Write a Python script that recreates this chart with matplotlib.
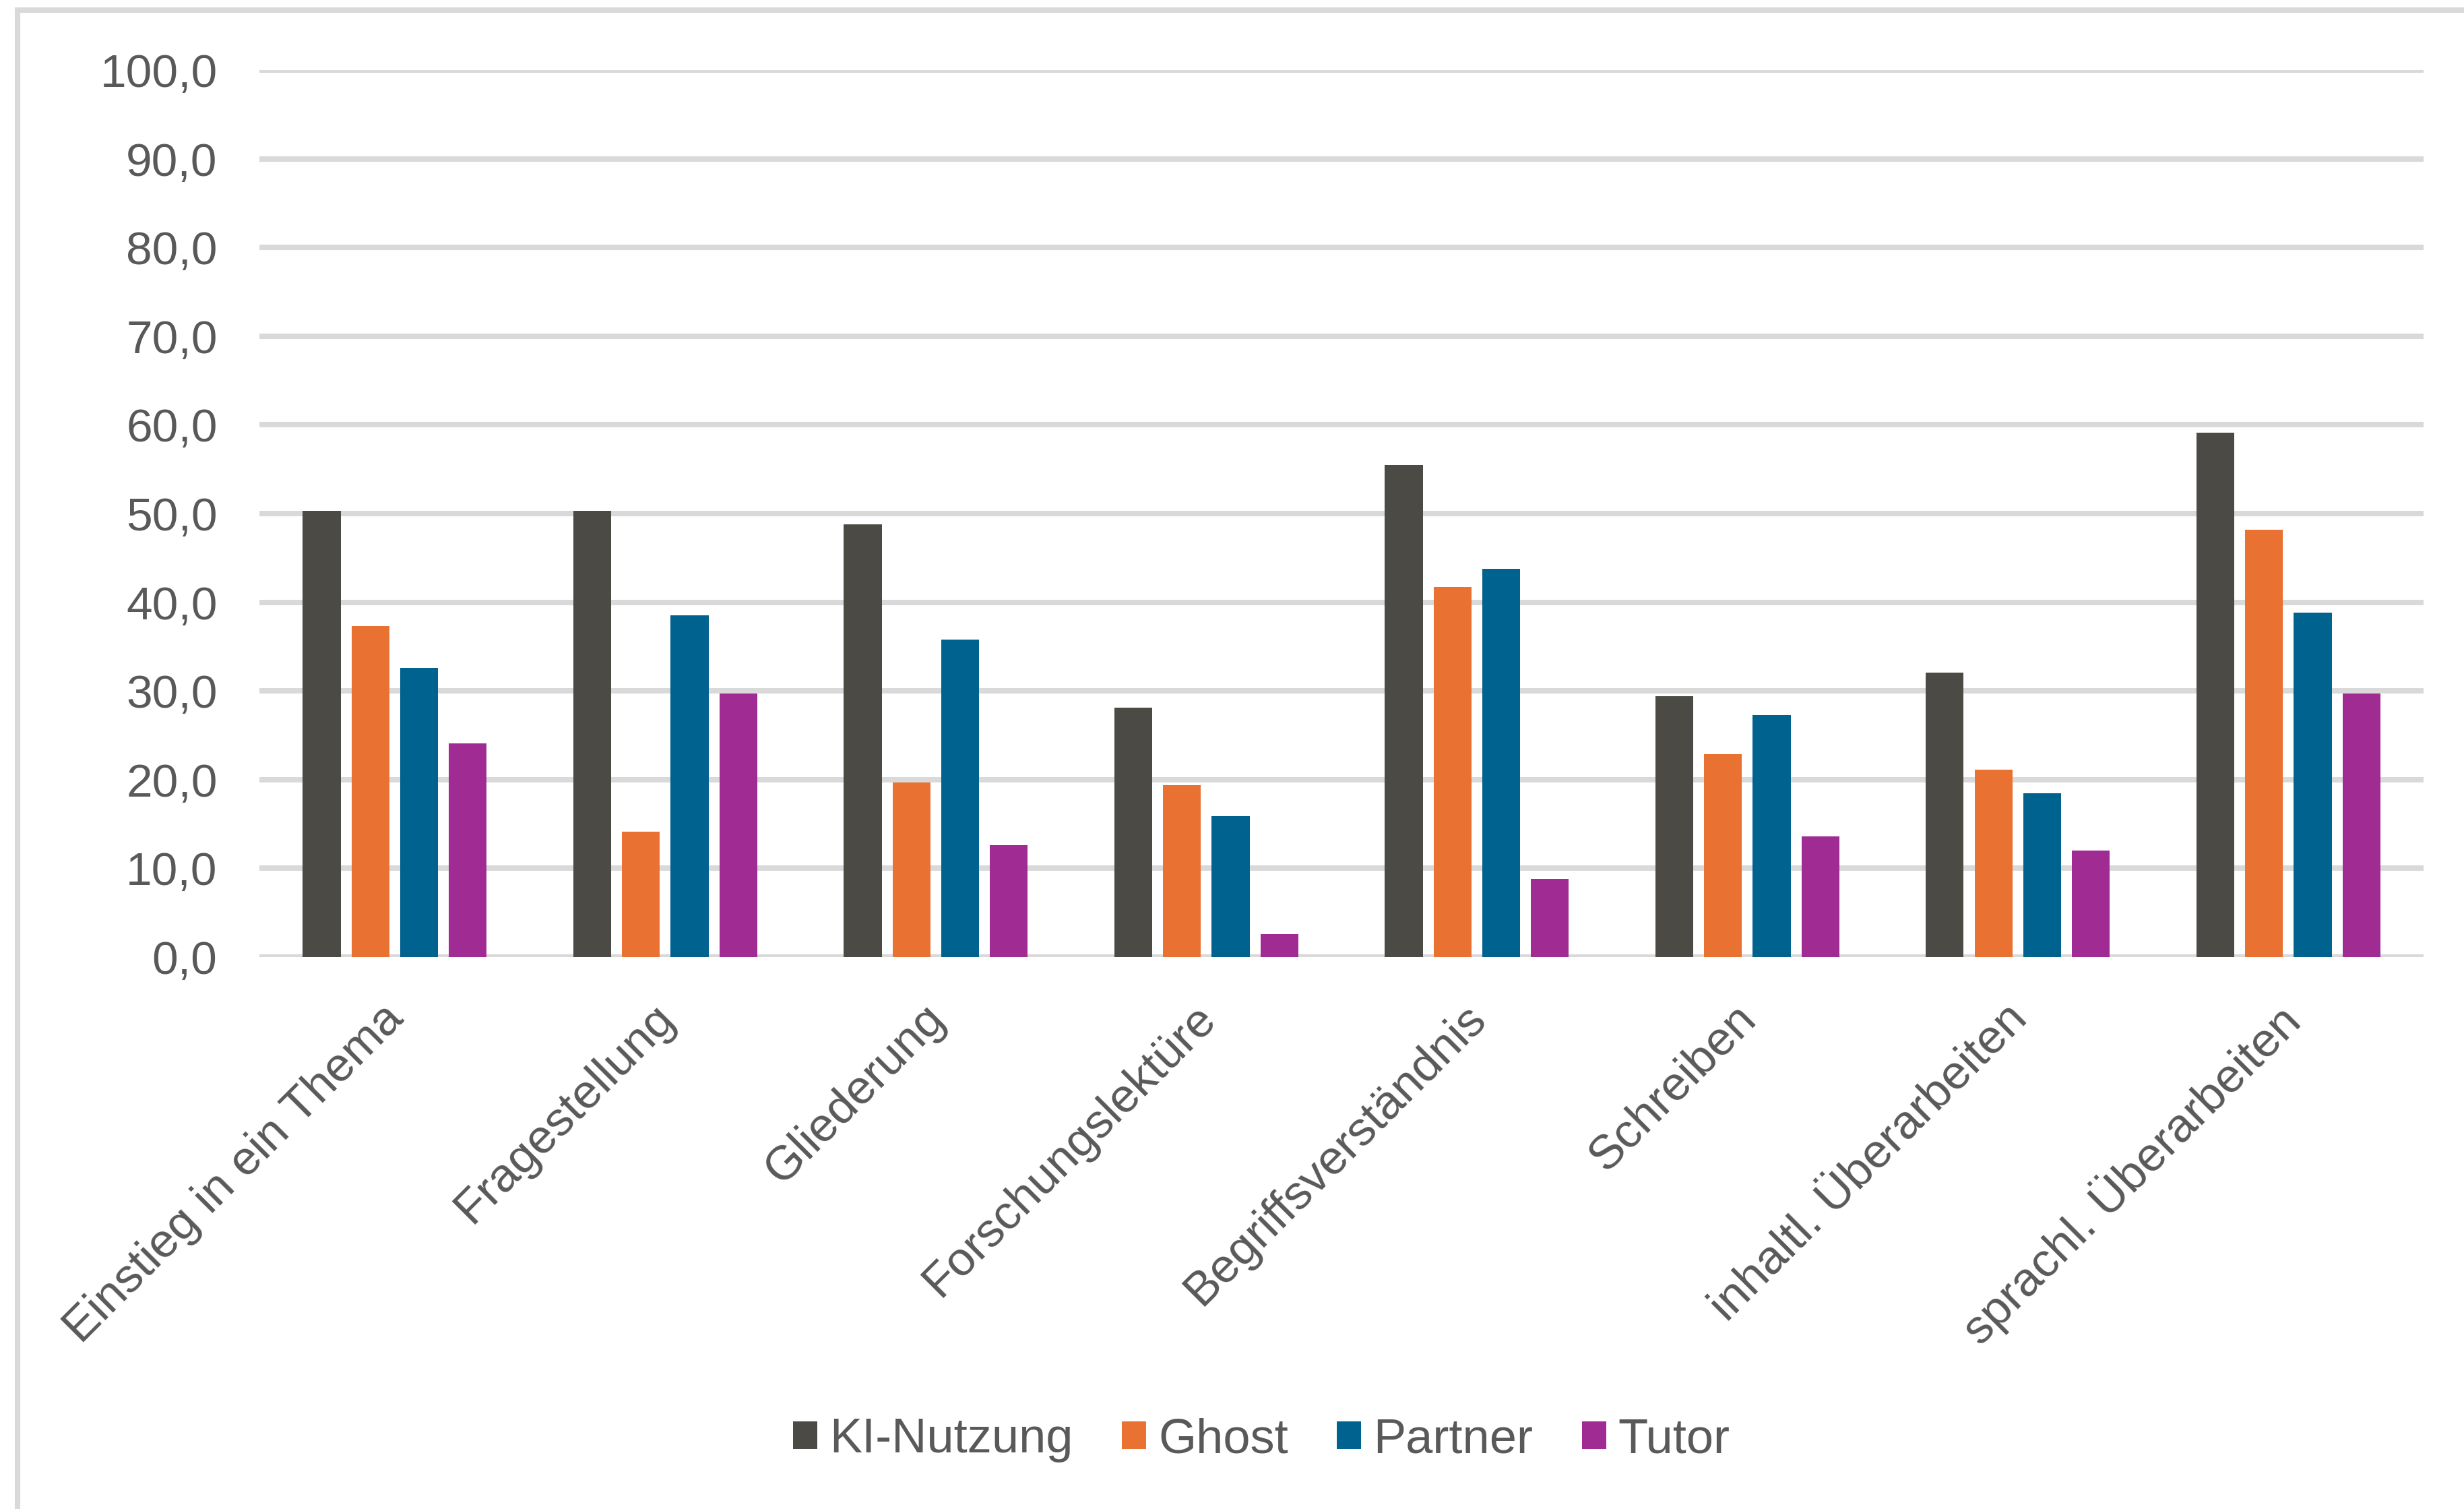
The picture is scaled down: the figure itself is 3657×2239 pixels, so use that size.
import matplotlib
matplotlib.use("Agg")
import matplotlib.pyplot as plt
import numpy as np
from matplotlib.lines import Line2D
from matplotlib.transforms import offset_copy

# categories and values (percent)
categories = ["Einstieg in ein Thema", "Fragestellung", "Gliederung", "Forschungslektüre",
              "Begriffsverständnis", "Schreiben", "inhaltl. Überarbeiten", "sprachl. Überarbeiten"]
ki_nutzung = [50.3, 50.3, 48.8, 28.1, 55.5, 29.4, 32.1, 59.1]
ghost = [37.3, 14.1, 19.7, 19.4, 41.7, 22.9, 21.1, 48.2]
partner = [32.6, 38.5, 35.8, 15.9, 43.8, 27.3, 18.5, 38.8]
tutor = [24.1, 29.7, 12.6, 2.6, 8.8, 13.6, 12.0, 29.7]

series_names = ["KI-Nutzung", "Ghost", "Partner", "Tutor"]
colors = ["#4B4A45", "#E97132", "#00628F", "#A02B93"]
yticks = [0, 10, 20, 30, 40, 50, 60, 70, 80, 90, 100]

plt.rcParams['font.family'] = ['Liberation Sans', 'DejaVu Sans']
txt = "#595959"
grid = "#D9D9D9"

fig = plt.figure(figsize=(36.57, 22.39), dpi=100)
ax = fig.add_axes([0.1053, 0.3658, 0.9836 - 0.1053, 0.9535 - 0.3658])

x = np.arange(len(categories))
width = 0.14
offsets = [-0.27, -0.09, 0.09, 0.27]
all_vals = [ki_nutzung, ghost, partner, tutor]
for vals, off, col, name in zip(all_vals, offsets, colors, series_names):
    ax.bar(x + off, vals, width, color=col, label=name, zorder=3)

ax.set_xlim(-0.5, len(categories) - 0.5)
ax.set_ylim(0, 100)
ax.set_yticks(yticks)
ax.set_yticklabels([f"{v:.1f}".replace(".", ",") for v in yticks])
ax.yaxis.grid(True, color=grid, linewidth=5.8, zorder=0)
ax.set_axisbelow(True)
ax.tick_params(axis='y', length=0, pad=45, labelsize=50, labelcolor=txt)
ax.set_xticks([])
for s in ax.spines.values():
    s.set_visible(False)

# rotated category labels
trans = offset_copy(ax.get_xaxis_transform(), fig=fig, x=-20, y=-58, units='dots')
for xi, lab in zip(x, categories):
    ax.text(xi, 0, lab, transform=trans, rotation=45, rotation_mode='anchor',
            ha='right', va='top', fontsize=51, color=txt)

leg = fig.legend(loc='center', bbox_to_anchor=(0.512, 0.0456), ncol=4, frameon=False,
                 fontsize=52, handlelength=0.5, handleheight=0.5, handletextpad=0.25,
                 columnspacing=1.0, labelcolor=txt)

# outer chart frame (only top and left edges visible)
fw = 5.8
fig.add_artist(Line2D([0.0071, 1.0], [0.9933, 0.9933], transform=fig.transFigure,
                      color=grid, linewidth=fw))
fig.add_artist(Line2D([0.0071, 0.0071], [0.0, 0.9933], transform=fig.transFigure,
                      color=grid, linewidth=fw))

fig.savefig("out.png", dpi=100)
